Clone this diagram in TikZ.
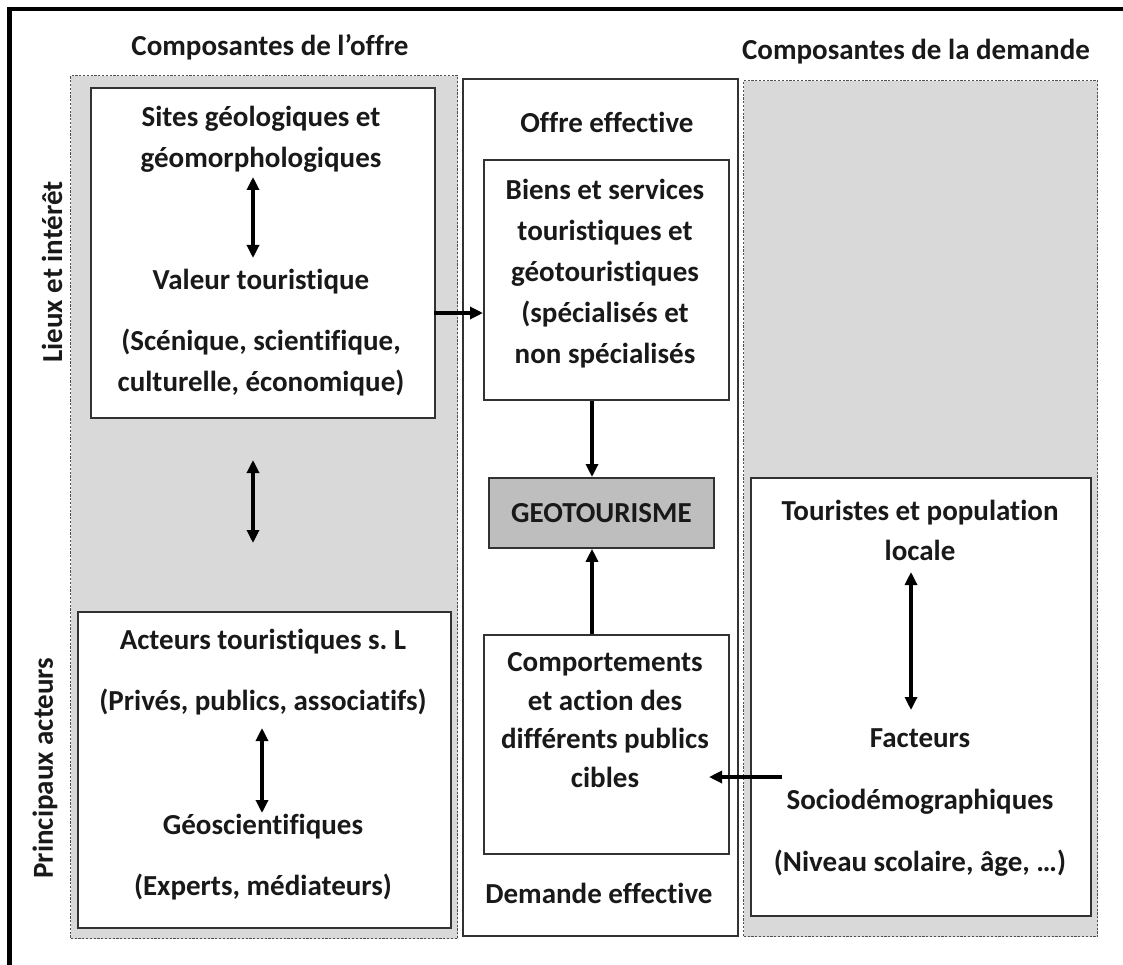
\documentclass[tikz,border=0pt]{standalone}
\usepackage{fontspec}
\setmainfont{Carlito}[Ligatures=NoCommon]
\usepackage{xcolor}
\usetikzlibrary{arrows.meta}
\definecolor{zonegray}{RGB}{217,217,217}
\definecolor{geogray}{RGB}{190,190,190}
\definecolor{linegray}{RGB}{50,50,50}
\definecolor{dotgray}{RGB}{80,80,80}
\frenchspacing

\tikzset{
  panel/.style={draw=linegray, fill=white, line width=1.8pt, anchor=north west, inner sep=0pt},
  zone/.style={panel, fill=zonegray, draw=dotgray, line width=1.4pt, dash pattern=on 2.2pt off 1.6pt},
  label/.style={font=\fontsize{29}{41}\selectfont\bfseries, align=center, text=black!90, inner sep=0pt},
  link/.style={line width=3.2pt, -{Triangle[length=13pt,width=12pt]}},
  duallink/.style={line width=3.2pt, {Triangle[length=13pt,width=12pt]}-{Triangle[length=13pt,width=12pt]}}
}

\begin{document}
\begin{tikzpicture}[x=1pt,y=-1pt]
  \useasboundingbox (0,0) rectangle (1123,965);
  \draw[line width=4.5pt] (9.5,965) -- (9.5,9) -- (1123,9);

  % zones and panels
  \node[zone, minimum width=387pt, minimum height=863pt] (offre) at (70,75) {};
  \node[zone, minimum width=354pt, minimum height=856pt] (demande) at (743,80) {};
  \node[panel, minimum width=275pt, minimum height=857pt] (effective) at (462,78) {};
  \node[panel, minimum width=344pt, minimum height=330pt] (sitesbox) at (90,87) {};
  \node[panel, minimum width=373pt, minimum height=316pt] (acteursbox) at (77,611) {};
  \node[panel, minimum width=245pt, minimum height=240pt] (biensbox) at (483,159) {};
  \node[panel, fill=geogray, minimum width=225pt, minimum height=70pt] (geobox) at (488,477) {};
  \node[panel, minimum width=245pt, minimum height=219pt] (compbox) at (483,634) {};
  \node[panel, minimum width=340pt, minimum height=438pt] (touristesbox) at (750,477) {};

  % titles
  \node[label] (titreoffre) at (270,47) {Composantes de l’offre};
  \node[label] (titredemande) at (916,52) {Composantes de la demande};
  \node[label, rotate=90] (lieux) at (52,272) {Lieux et intérêt};
  \node[label, rotate=90] (principaux) at (45,768) {Principaux acteurs};
  \node[label] (offreeff) at (607,122) {Offre effective};
  \node[label] (demandeeff) at (599,893) {Demande effective};

  % texts
  \node[label] (sites) at (261,139) {Sites géologiques et\\géomorphologiques};
  \node[label] (valeur) at (261,282) {Valeur touristique};
  \node[label] (scenique) at (261,363) {(Scénique, scientifique,\\culturelle, économique)};
  \node[label, font=\fontsize{29}{61}\selectfont\bfseries] (acteurs) at (263,672) {Acteurs touristiques s. L\\(Privés, publics, associatifs)};
  \node[label, font=\fontsize{29}{61}\selectfont\bfseries] (geosci) at (263,857) {Géoscientifiques\\(Experts, médiateurs)};
  \node[label] (biens) at (605,274) {Biens et services\\touristiques et\\géotouristiques\\(spécialisés et\\non spécialisés};
  \node[label] (geo) at (geobox.center) {GEOTOURISME};
  \node[label, font=\fontsize{29}{38.5}\selectfont\bfseries] (comp) at (605,720) {Comportements\\et action des\\différents publics\\cibles};
  \node[label, font=\fontsize{29}{40}\selectfont\bfseries] (touristes) at (920,530) {Touristes et population\\locale};
  \node[label, font=\fontsize{29}{62}\selectfont\bfseries] (facteurs) at (920,803) {Facteurs\\Sociodémographiques\\(Niveau scolaire, âge, …)};

  % arrows
  \coordinate (sitesA) at (253,177);
  \coordinate (sitesB) at (253,258);
  \coordinate (zoneA) at (253,460);
  \coordinate (zoneB) at (253,543);
  \coordinate (acteursA) at (262,728);
  \coordinate (acteursB) at (262,813);
  \coordinate (touristesA) at (911,572);
  \coordinate (touristesB) at (911,710);
  \coordinate (offreout) at (434,313);
  \coordinate (midline) at (592,0);
  \coordinate (facteursout) at (782,777);
  \coordinate (compin) at (709,777);
  \draw[duallink] (sitesA) -- (sitesB);
  \draw[duallink] (zoneA) -- (zoneB);
  \draw[duallink] (acteursA) -- (acteursB);
  \draw[duallink] (touristesA) -- (touristesB);
  \draw[link] (offreout) -- (offreout -| biensbox.west);
  \draw[link] (biensbox.south -| midline) -- (geobox.north -| midline);
  \draw[link] (compbox.north -| midline) -- (geobox.south -| midline);
  \draw[link] (facteursout) -- (compin);
\end{tikzpicture}
\end{document}
